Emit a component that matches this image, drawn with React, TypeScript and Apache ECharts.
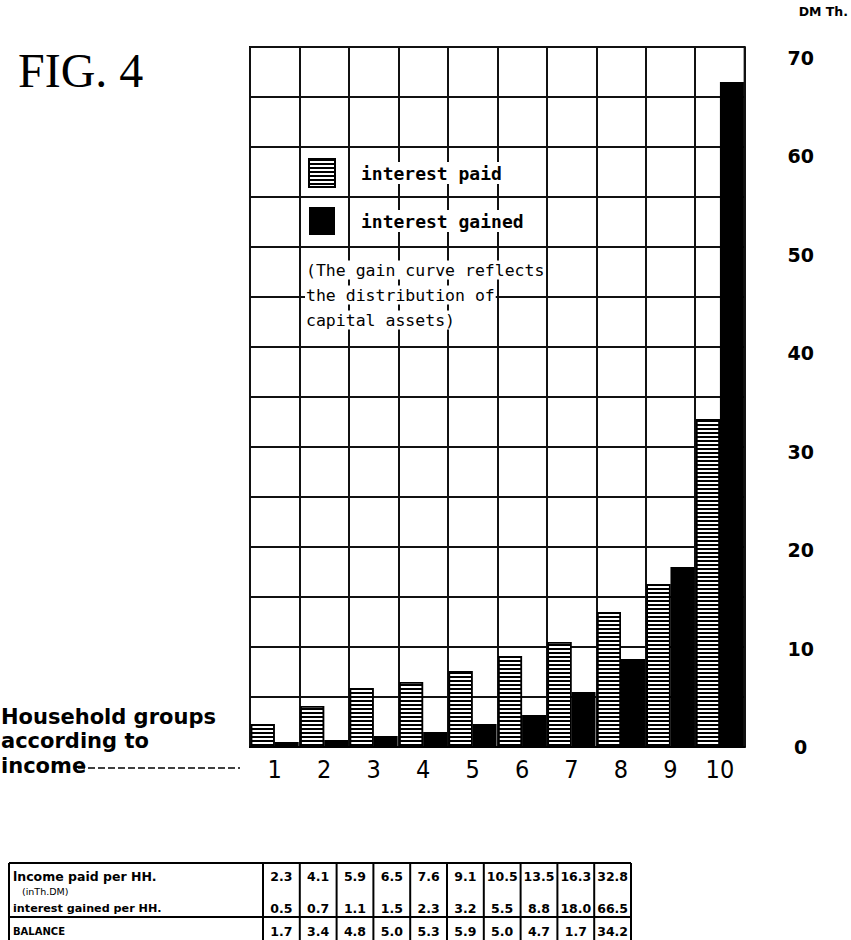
import React, { useEffect, useRef } from 'react';
import * as echarts from 'echarts';

const categories = ['1', '2', '3', '4', '5', '6', '7', '8', '9', '10'];
const interestPaid = [2.3, 4.1, 5.9, 6.5, 7.6, 9.1, 10.5, 13.5, 16.3, 32.8];
const interestGained = [0.5, 0.7, 1.1, 1.5, 2.3, 3.2, 5.5, 8.8, 18.0, 66.5];
const balance = [1.7, 3.4, 4.8, 5.0, 5.3, 5.9, 5.0, 4.7, 1.7, 34.2];
const seriesNames = ['interest paid', 'interest gained'];
const noteLines = ['(The gain curve reflects', 'the distribution of', 'capital assets)'];
const sideLabels = ['Household groups', 'according to', 'income'];
const tableLabels = ['lncome paid per HH.', '(inTh.DM)', 'interest gained per HH.', 'BALANCE'];

const SANS = "'DejaVu Sans', sans-serif";
const MONO = "'DejaVu Sans Mono', monospace";

export default function App() {
  const ref = useRef<HTMLDivElement>(null);

  useEffect(() => {
    const chart = echarts.init(ref.current!, null, { renderer: 'svg', width: 851, height: 940 });

    const graphics: any[] = [];
    const txt = (text: string, x: number, y: number, size: number, opts: any = {}) => ({
      type: 'text',
      x,
      y,
      silent: true,
      style: {
        text,
        fill: '#000',
        fontSize: size,
        fontFamily: opts.family || SANS,
        fontWeight: opts.weight || 'bold',
        align: opts.align || 'left',
        verticalAlign: 'middle',
        backgroundColor: opts.bg,
        padding: opts.pad,
      },
      z: 100,
    });
    const line = (x1: number, y1: number, x2: number, y2: number, w = 2, dash?: number[]) => ({
      type: 'line',
      silent: true,
      shape: { x1, y1, x2, y2 },
      style: { stroke: '#000', lineWidth: w, lineDash: dash },
      z: 100,
    });

    graphics.push(txt('FIG. 4', 18, 70, 48, { family: "'Liberation Serif', 'DejaVu Serif', serif", weight: 'normal' }));

    noteLines.forEach((t, i) =>
      graphics.push(txt(t, 305, 270 + i * 25, 16.5, { family: MONO, weight: 'normal', bg: '#fff', pad: [1, 1] }))
    );

    graphics.push(txt(sideLabels[0], 1, 717, 21));
    graphics.push(txt(sideLabels[1], 1, 741, 21));
    graphics.push(txt(sideLabels[2], 1, 766, 21));
    graphics.push(line(78, 768, 240, 768, 1.5, [7, 3]));

    // table
    const sepX = (i: number) => 263 + i * 36.8;
    const ctrX = (i: number) => sepX(i) + 18.4;
    const tTop = 863;
    const tMid = 917;
    graphics.push(line(9, tTop, sepX(10), tTop));
    graphics.push(line(9, tMid, sepX(10), tMid));
    graphics.push(line(9, tTop, 9, 940));
    for (let i = 0; i <= 10; i++) graphics.push(line(sepX(i), tTop, sepX(i), 940));
    graphics.push(txt(tableLabels[0], 13, 876, 12.5));
    graphics.push(txt(tableLabels[1], 22, 891, 9.5, { weight: 'normal' }));
    graphics.push(txt(tableLabels[2], 13, 908, 11.2));
    graphics.push(txt(tableLabels[3], 13, 931, 10));
    interestPaid.forEach((v, i) => graphics.push(txt(v.toFixed(1), ctrX(i), 876, 12.5, { align: 'center' })));
    interestGained.forEach((v, i) => graphics.push(txt(v.toFixed(1), ctrX(i), 908, 12.5, { align: 'center' })));
    balance.forEach((v, i) => graphics.push(txt(v.toFixed(1), ctrX(i), 931, 12.5, { align: 'center' })));

    const option: any = {
      animation: false,
      backgroundColor: '#fff',
      grid: {
        left: 250,
        top: 47,
        width: 496,
        height: 700,
        show: true,
        borderColor: '#000',
        borderWidth: 2,
        backgroundColor: 'transparent',
      },
      legend: {
        orient: 'vertical',
        left: 303,
        top: 153,
        itemWidth: 26,
        itemHeight: 28,
        itemGap: 19,
        icon: 'rect',
        data: seriesNames,
        formatter: (name: string) => `{g| }{t|${name}}`,
        textStyle: {
          color: '#000',
          fontFamily: MONO,
          fontWeight: 'bold',
          fontSize: 18,
          rich: {
            g: { width: 19, fontSize: 18 },
            t: {
              fontFamily: MONO,
              fontWeight: 'bold',
              fontSize: 18,
              color: '#000',
              backgroundColor: '#fff',
              padding: [2, 2],
            },
          },
        },
      },
      xAxis: {
        type: 'category',
        data: categories,
        axisLine: { show: true, lineStyle: { color: '#000', width: 2 } },
        axisTick: { show: false },
        splitLine: { show: true, lineStyle: { color: '#111', width: 2 } },
        axisLabel: {
          color: '#000',
          fontSize: 25,
          fontFamily: "'DejaVu Sans Condensed', 'Liberation Sans Narrow', 'DejaVu Sans', sans-serif",
          margin: 10,
        },
      },
      yAxis: [
        {
          type: 'value',
          position: 'right',
          min: 0,
          max: 70,
          interval: 5,
          axisLine: { show: false },
          axisTick: { show: false },
          axisLabel: { show: false },
          splitLine: { show: true, lineStyle: { color: '#111', width: 2 } },
        },
        {
          type: 'value',
          position: 'right',
          min: 0,
          max: 71.1,
          interval: 10,
          name: 'DM Th.',
          nameLocation: 'end',
          nameGap: 29,
          nameTextStyle: {
            color: '#000',
            fontFamily: SANS,
            fontWeight: 'bold',
            fontSize: 12.5,
            align: 'left',
            padding: [0, 0, 0, 54],
          },
          axisLine: { show: false },
          axisTick: { show: false },
          splitLine: { show: false },
          axisLabel: {
            color: '#000',
            fontFamily: SANS,
            fontWeight: 'bold',
            fontSize: 19,
            align: 'center',
            margin: 56,
            formatter: (v: number) => (Math.abs(v % 10) < 1e-6 ? String(v) : ''),
          },
        },
      ],
      series: [
        {
          name: seriesNames[0],
          type: 'bar',
          yAxisIndex: 0,
          data: interestPaid,
          barWidth: 24,
          barGap: '0%',
          itemStyle: {
            color: '#fff',
            borderColor: '#000',
            borderWidth: 1.5,
            decal: {
              symbol: 'rect',
              symbolSize: 1,
              dashArrayX: [1, 0],
              dashArrayY: [2, 2],
              rotation: 0,
              color: '#000',
              backgroundColor: '#fff',
            },
          },
          z: 5,
        },
        {
          name: seriesNames[1],
          type: 'bar',
          yAxisIndex: 0,
          data: interestGained,
          barWidth: 24,
          barGap: '0%',
          itemStyle: { color: '#000', borderColor: '#000', borderWidth: 0 },
          z: 5,
        },
      ],
      graphic: graphics,
    };

    chart.setOption(option);
    return () => chart.dispose();
  }, []);

  return <div ref={ref} style={{ position: 'absolute', left: 0, top: 0, width: 851, height: 940 }} />;
}
